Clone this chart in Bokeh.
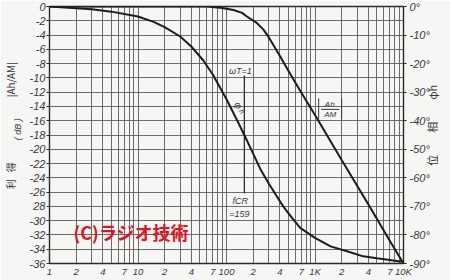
import math
from bokeh.plotting import figure
from bokeh.models import Range1d, LinearAxis, FixedTicker, Label
from bokeh.core.properties import value
from bokeh.embed import file_html
from bokeh.resources import INLINE

# ---------------- data ----------------
freq_gain = [1, 10, 30, 60, 90, 120, 150, 170, 220, 260, 300, 400, 500, 680, 1000, 2000, 4000, 7000, 10000]
gain_db = [0, 0, 0, 0, -0.2, -0.5, -0.9, -1.4, -2.3, -3.2, -4.3, -6.9, -9.0, -11.8, -15.2, -21.5, -27.7, -32.8, -36]

freq_phase = [1, 3, 5, 10, 15, 20, 30, 40, 55, 70, 100, 130, 159, 200, 240, 300, 437, 550, 680, 1000, 1500, 2450, 3500, 5000, 7000, 10000]
phase_deg = [0, -1.0, -1.8, -3.5, -5.4, -7.2, -10.5, -14, -19, -23.8, -32.5, -39.5, -45, -51.5, -56.8, -62, -70, -74, -77.5, -81, -84, -86, -87.5, -88.2, -88.8, -89.5]

f_cr = 159

gain_ticks = [0, -2, -4, -6, -8, -10, -12, -14, -16, -18, -20, -22, -24, -26, -28, -30, -32, -34, -36]
gain_labels = ["0", "-2", "-4", "-6", "-8", "-10", "-12", "-14", "-16", "-18", "-20", "-22", "-24",
               "-26", "28", "-30", "-32", "-34", "-36"]
phase_ticks = [0, -10, -20, -30, -40, -50, -60, -70, -80, -90]
phase_labels = ["0°", "-10°", "-20°", "-30°", "-40°", "-50°", "-60°", "-70°", "-80°", "-90°"]
freq_ticks = [1, 2, 4, 7, 10, 20, 40, 70, 100, 200, 400, 700, 1000, 2000, 4000, 7000, 10000]
freq_labels = ["1", "2", "4", "7", "10", "2", "4", "7", "100", "2", "4", "7", "1K", "2", "4", "7", "10K"]
grid_freqs = [1, 2, 3, 4, 5, 6, 7, 8, 9,
              10, 20, 30, 40, 50, 60, 70, 80, 90,
              100, 200, 300, 400, 500, 600, 700, 800, 900,
              1000, 2000, 3000, 4000, 5000, 6000, 7000, 8000, 9000, 10000]

# ---------------- styling ----------------
BG = "#f6f6f4"
GRID = "#5c5c5c"
INK = "#1c1c1c"
TXT = "#3a3a3a"
RED = "#e8121b"
TICKFONT = "Liberation Sans"
CJK = "Noto Sans CJK JP"

# pixel -> data helpers for placing annotation text (frame: x 49..403, y 6..263)
X0, PXD, Y0, PXDB = 49.0, 88.6, 6.0, 7.147


def fx(px):
    return 10 ** ((px - X0) / PXD)


def gy(py):
    return -(py - Y0) / PXDB


p = figure(width=450, height=280, x_axis_type="log",
           x_range=Range1d(1, 10000), y_range=Range1d(-36, 0),
           output_backend="svg", toolbar_location=None,
           min_border_left=49, min_border_right=47, min_border_top=6, min_border_bottom=17,
           background_fill_color=BG, border_fill_color=BG)
p.extra_y_ranges = {"phase": Range1d(-90, 0)}

p.outline_line_color = "#2a2a2a"
p.outline_line_width = 1.4

# grid
p.xgrid.ticker = FixedTicker(ticks=grid_freqs)
p.ygrid.ticker = FixedTicker(ticks=gain_ticks)
p.grid.grid_line_color = GRID
p.grid.grid_line_width = 0.9

# bottom axis
xa = p.xaxis[0]
xa.ticker = FixedTicker(ticks=freq_ticks)
xa.major_label_overrides = dict(zip(freq_ticks, freq_labels))
xa.major_tick_out = 0
xa.major_tick_in = 0
xa.minor_tick_out = 0
xa.minor_tick_in = 0
xa.major_label_standoff = 2
xa.axis_line_color = "#2a2a2a"

# left axis
ya = p.yaxis[0]
ya.ticker = FixedTicker(ticks=gain_ticks)
ya.major_label_overrides = dict(zip(gain_ticks, gain_labels))
ya.major_tick_out = 3
ya.major_tick_in = 0
ya.minor_tick_out = 0
ya.minor_tick_in = 0
ya.major_label_standoff = 1
ya.axis_line_color = "#2a2a2a"

# right axis (phase)
ra = LinearAxis(y_range_name="phase", ticker=FixedTicker(ticks=phase_ticks),
                major_label_overrides=dict(zip(phase_ticks, phase_labels)))
ra.major_tick_out = 3
ra.major_tick_in = 0
ra.minor_tick_out = 0
ra.minor_tick_in = 0
ra.major_label_standoff = 3
ra.axis_line_color = "#2a2a2a"
p.add_layout(ra, "right")

for ax in (xa, ya, ra):
    ax.major_label_text_font = TICKFONT
    ax.major_label_text_font_style = "italic"
    ax.major_label_text_font_size = "11px"
    ax.major_label_text_color = TXT
    ax.major_tick_line_color = "#2a2a2a"
xa.major_label_text_font_size = "9.5px"

# curves
p.line(freq_gain, gain_db, line_width=2.0, line_color=INK)
p.line(freq_phase, phase_deg, y_range_name="phase", line_width=2.0, line_color=INK)

# omega T = 1 marker line at f_CR
p.segment(x0=[f_cr], y0=[gy(75)], x1=[f_cr], y1=[gy(193)], line_color=INK, line_width=1.2)

ann_font = value("Liberation Sans")
p.text(x=[fx(240)], y=[gy(71)], text=["ωT=1"], text_font=ann_font, text_font_style="italic",
       text_font_size="9px", text_color=TXT, text_align="center", text_baseline="middle")
p.text(x=[fx(240)], y=[gy(201)], text=["fCR"], text_font=ann_font, text_font_style="italic",
       text_font_size="9px", text_color=TXT, text_align="center", text_baseline="middle")
p.text(x=[fx(239)], y=[gy(214)], text=["=159"], text_font=ann_font, text_font_style="italic",
       text_font_size="9px", text_color=TXT, text_align="center", text_baseline="middle")
# phi_h on the phase curve
p.text(x=[fx(238)], y=[gy(105)], text=["φ"], text_font=ann_font, text_font_style="italic",
       text_font_size="10px", text_color=TXT, text_align="center", text_baseline="middle",
       angle=-1.05)
p.text(x=[fx(241.5)], y=[gy(111)], text=["h"], text_font=ann_font, text_font_style="italic",
       text_font_size="7px", text_color=TXT, text_align="center", text_baseline="middle",
       angle=-1.05)

# |Ah/AM| beside the gain curve
p.segment(x0=[fx(318.5), fx(341.5), fx(321)], y0=[gy(98), gy(98), gy(109)],
          x1=[fx(318.5), fx(341.5), fx(339)], y1=[gy(119), gy(119), gy(109)],
          line_color=TXT, line_width=1.0)
p.text(x=[fx(329.5), fx(330)], y=[gy(104), gy(114.5)], text=["Ah", "AM"], text_font=ann_font,
       text_font_style="italic", text_font_size="8px", text_color=TXT,
       text_align="center", text_baseline="middle")

# watermark
p.text(x=[fx(73)], y=[gy(231.5)], text=["(C)ラジオ技術"], text_font=value(CJK),
       text_font_size="18px", text_font_style="bold", text_color=RED,
       text_align="left", text_baseline="middle")

# ---- axis titles outside the frame: Labels in the side panels ----
R90 = math.pi / 2
IS = "\u3000"  # ideographic space
left_title = "利\u2002\u2009得" + IS * 6 + "\u2002|Ah/AM|"
p.add_layout(Label(x=fx(10), y=gy(189), text=left_title, angle=R90,
                   text_font=CJK, text_font_size="10px", text_color=TXT,
                   text_align="left", text_baseline="middle"), "left")
p.add_layout(Label(x=fx(17.5), y=gy(129), text="( dB )", angle=R90,
                   text_font=TICKFONT, text_font_size="9px", text_font_style="italic",
                   text_color=TXT, text_align="center", text_baseline="middle"), "left")
right_title = "位" + IS * 2 + "相" + IS * 2 + "φh"
p.add_layout(Label(x=fx(432), y=gy(165.5), text=right_title, angle=R90,
                   text_font=CJK, text_font_size="11px", text_color=TXT,
                   text_align="left", text_baseline="middle"), "right")

open("out.html", "w").write(file_html(p, INLINE))
